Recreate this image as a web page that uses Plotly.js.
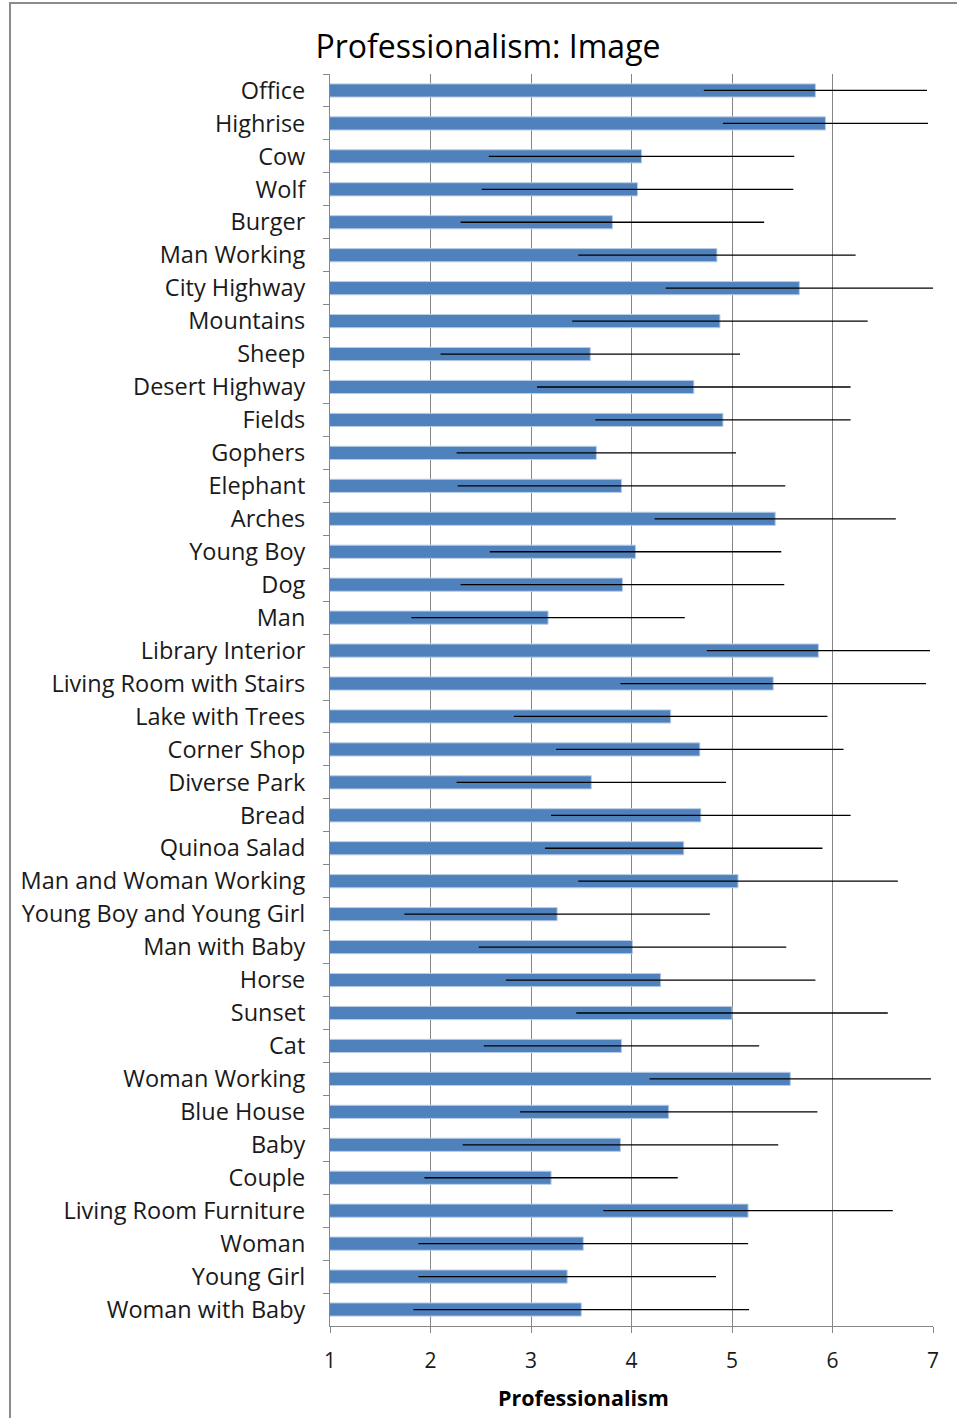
<!DOCTYPE html>
<html>
<head>
<meta charset="utf-8">
<script src="https://cdn.plot.ly/plotly-3.0.1.min.js"></script>
<style>
  html, body { margin: 0; padding: 0; background: #fff; }
  #wrap { position: relative; width: 957px; height: 1418px; overflow: hidden; }
  #frame { position: absolute; left: 9px; top: 2px; width: 970px; height: 1430px; border: 2px solid #8c8c8c; box-sizing: border-box; pointer-events: none; }
  #chart { position: absolute; left: 0; top: 0; width: 957px; height: 1418px; }
</style>
</head>
<body>
<div id="wrap">
  <div id="chart"></div>
  <div id="frame"></div>
</div>
<script>
const categories = [
  "Office", "Highrise", "Cow", "Wolf", "Burger", "Man Working", "City Highway",
  "Mountains", "Sheep", "Desert Highway", "Fields", "Gophers", "Elephant", "Arches",
  "Young Boy", "Dog", "Man", "Library Interior", "Living Room with Stairs",
  "Lake with Trees", "Corner Shop", "Diverse Park", "Bread", "Quinoa Salad",
  "Man and Woman Working", "Young Boy and Young Girl", "Man with Baby", "Horse",
  "Sunset", "Cat", "Woman Working", "Blue House", "Baby", "Couple",
  "Living Room Furniture", "Woman", "Young Girl", "Woman with Baby"
];
const means = [
  5.83, 5.93, 4.10, 4.06, 3.81, 4.85, 5.67,
  4.88, 3.59, 4.62, 4.91, 3.65, 3.90, 5.43,
  4.04, 3.91, 3.17, 5.86, 5.41,
  4.39, 4.68, 3.60, 4.69, 4.52,
  5.06, 3.26, 4.01, 4.29,
  5.00, 3.90, 5.58, 4.37, 3.89, 3.20,
  5.16, 3.52, 3.36, 3.50
];
const errors = [
  1.11, 1.02, 1.52, 1.55, 1.51, 1.38, 1.33,
  1.47, 1.49, 1.56, 1.27, 1.39, 1.63, 1.20,
  1.45, 1.61, 1.36, 1.11, 1.52,
  1.56, 1.43, 1.34, 1.49, 1.38,
  1.59, 1.52, 1.53, 1.54,
  1.55, 1.37, 1.40, 1.48, 1.57, 1.26,
  1.44, 1.64, 1.48, 1.67
];
const xTicks = [1, 2, 3, 4, 5, 6, 7];
const xAxisTitle = 'Professionalism';

const font = '"Open Sans", "Noto Sans", sans-serif';
const axisGray = '#868686';

const trace = {
  type: 'bar',
  orientation: 'h',
  y: categories,
  x: means,
  marker: { color: '#4F81BD', line: { color: '#B9CDE5', width: 1 } },
  error_x: { type: 'data', array: errors, symmetric: true, visible: true, color: '#000000', thickness: 1.3, width: 0 },
  hoverinfo: 'x+y'
};

const layout = {
  width: 957, height: 1418,
  margin: { l: 330, r: 24, t: 74, b: 92, pad: 0 },
  paper_bgcolor: 'rgba(0,0,0,0)',
  plot_bgcolor: '#ffffff',
  bargap: 0.6,
  showlegend: false,
  font: { family: font, color: '#1a1a1a' },
  title: {
    text: 'Professionalism: Image',
    font: { family: font, size: 32, color: '#000' },
    xref: 'container', x: 488/957, xanchor: 'center',
    yref: 'container', y: 1 - 47/1418, yanchor: 'middle'
  },
  xaxis: {
    range: [1, 7],
    tickvals: xTicks,
    ticktext: xTicks.map(String),
    showgrid: true, gridcolor: axisGray, gridwidth: 1,
    zeroline: false,
    showline: true, linecolor: axisGray, linewidth: 1,
    ticks: 'outside', ticklen: 6, tickcolor: axisGray,
    tickfont: { family: font, size: 21, color: '#1a1a1a' },
    ticklabelstandoff: 10,
    fixedrange: true
  },
  yaxis: {
    type: 'category',
    categoryorder: 'array',
    categoryarray: categories,
    autorange: 'reversed',
    showgrid: false, zeroline: false,
    showline: true, linecolor: axisGray, linewidth: 1,
    ticks: 'outside', ticklen: 6, tickcolor: axisGray,
    tickson: 'boundaries',
    tickfont: { family: font, size: 23.5, color: '#1a1a1a' },
    ticklabelstandoff: 19,
    fixedrange: true
  },
  annotations: [{
    text: '<b>' + xAxisTitle + '</b>',
    xref: 'paper', yref: 'paper',
    x: (583 - 330) / 603, xanchor: 'center',
    y: -(1397 - 1326) / 1252, yanchor: 'middle',
    showarrow: false,
    font: { family: font, size: 21.5, color: '#000' }
  }]
};

Plotly.newPlot('chart', [trace], layout, { displayModeBar: false, staticPlot: true });
</script>
</body>
</html>
